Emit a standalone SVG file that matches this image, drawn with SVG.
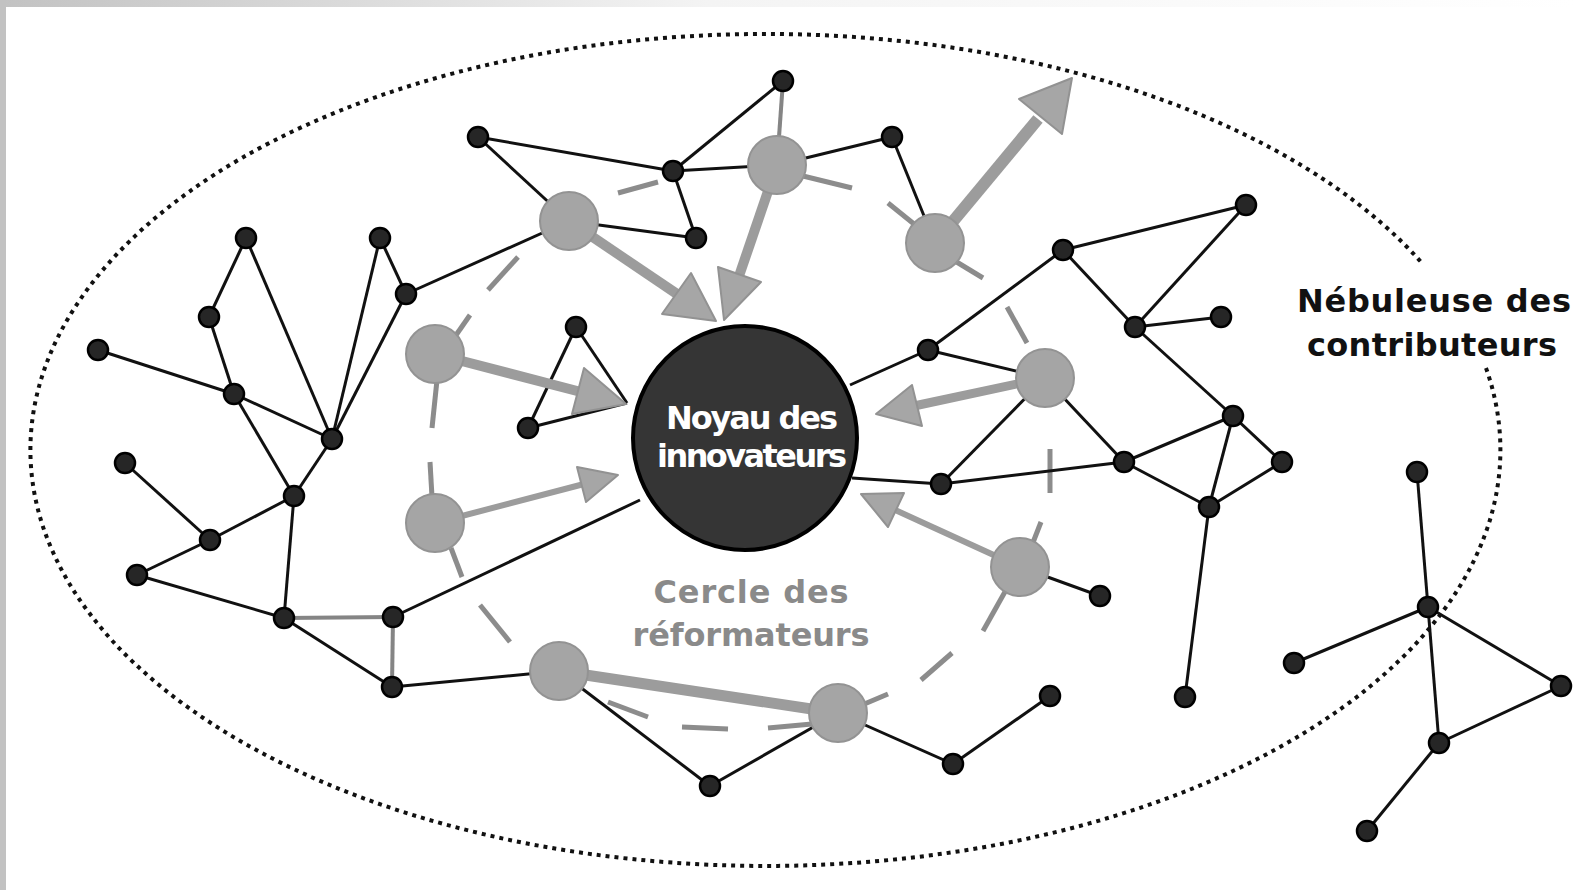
<svg xmlns="http://www.w3.org/2000/svg" width="1576" height="890" viewBox="0 0 1576 890">
<defs>
<linearGradient id="topg" x1="0" y1="0" x2="1" y2="0">
<stop offset="0" stop-color="#c2c2c2"/>
<stop offset="0.45" stop-color="#f4f4f4"/>
<stop offset="1" stop-color="#ffffff"/>
</linearGradient>
</defs>
<style>
.e{stroke:#111;stroke-width:3;fill:none}
.gl{stroke:#858585;stroke-width:4;fill:none}
.d{stroke:#8c8c8c;stroke-width:5;fill:none}
.sh{stroke:#9c9c9c;fill:none}
.ah{fill:#a6a6a6;stroke:#929292;stroke-width:2;stroke-linejoin:round}
.bn{fill:#262626;stroke:#000;stroke-width:2.5}
.gn{fill:#a5a5a5;stroke:#939393;stroke-width:2}
.t{font-family:"DejaVu Sans",sans-serif;font-weight:bold;font-size:32px}
</style>
<rect width="1576" height="890" fill="#fff"/>
<rect x="0" y="0" width="1576" height="7" fill="url(#topg)"/>
<rect x="0" y="0" width="6" height="890" fill="#c2c2c2"/>
<path d="M1486,368 A735,416 0 1 1 1422,263" fill="none" stroke="#111" stroke-width="4" stroke-dasharray="4 5"/>
<g id="connectors">
<g id="dashed-circle">
<line class="d" x1="618" y1="193" x2="658" y2="182"/>
<line class="d" x1="488" y1="290" x2="518" y2="257"/>
<line class="d" x1="454" y1="338" x2="470" y2="315"/>
<line class="d" x1="437" y1="380" x2="432" y2="428"/>
<line class="d" x1="430" y1="462" x2="432" y2="497"/>
<line class="d" x1="451" y1="548" x2="462" y2="577"/>
<line class="d" x1="480" y1="605" x2="510" y2="642"/>
<line class="d" x1="608" y1="702" x2="648" y2="717"/>
<line class="d" x1="682" y1="727" x2="728" y2="729"/>
<line class="d" x1="768" y1="728" x2="812" y2="724"/>
<line class="d" x1="862" y1="705" x2="888" y2="694"/>
<line class="d" x1="921" y1="680" x2="952" y2="653"/>
<line class="d" x1="1006" y1="590" x2="983" y2="631"/>
<line class="d" x1="1032" y1="545" x2="1041" y2="522"/>
<line class="d" x1="1050" y1="449" x2="1050" y2="493"/>
<line class="d" x1="1007" y1="307" x2="1027" y2="343"/>
<line class="d" x1="955" y1="261" x2="983" y2="278"/>
<line class="d" x1="888" y1="203" x2="914" y2="224"/>
<line class="d" x1="803" y1="176" x2="852" y2="188"/>
</g>
<g id="edges">
<line class="e" x1="478" y1="137" x2="673" y2="171"/>
<line class="e" x1="478" y1="137" x2="569" y2="221"/>
<line class="e" x1="673" y1="171" x2="783" y2="81"/>
<line class="e" x1="673" y1="171" x2="696" y2="238"/>
<line class="e" x1="673" y1="171" x2="777" y2="165"/>
<line class="e" x1="569" y1="221" x2="696" y2="238"/>
<line class="e" x1="777" y1="165" x2="892" y2="137"/>
<line class="e" x1="892" y1="137" x2="935" y2="243"/>
<line class="e" x1="569" y1="221" x2="406" y2="294"/>
<line class="e" x1="406" y1="294" x2="380" y2="238"/>
<line class="e" x1="406" y1="294" x2="332" y2="439"/>
<line class="e" x1="380" y1="238" x2="332" y2="439"/>
<line class="e" x1="246" y1="238" x2="209" y2="317"/>
<line class="e" x1="246" y1="238" x2="332" y2="439"/>
<line class="e" x1="209" y1="317" x2="234" y2="394"/>
<line class="e" x1="98" y1="350" x2="234" y2="394"/>
<line class="e" x1="234" y1="394" x2="332" y2="439"/>
<line class="e" x1="234" y1="394" x2="294" y2="496"/>
<line class="e" x1="332" y1="439" x2="294" y2="496"/>
<line class="e" x1="125" y1="463" x2="210" y2="540"/>
<line class="e" x1="210" y1="540" x2="294" y2="496"/>
<line class="e" x1="210" y1="540" x2="137" y2="575"/>
<line class="e" x1="137" y1="575" x2="284" y2="618"/>
<line class="e" x1="294" y1="496" x2="284" y2="618"/>
<line class="e" x1="284" y1="618" x2="392" y2="687"/>
<line class="e" x1="393" y1="617" x2="640" y2="500"/>
<line class="e" x1="392" y1="687" x2="559" y2="671"/>
<line class="e" x1="559" y1="671" x2="710" y2="786"/>
<line class="e" x1="710" y1="786" x2="838" y2="713"/>
<line class="e" x1="838" y1="713" x2="953" y2="764"/>
<line class="e" x1="953" y1="764" x2="1050" y2="696"/>
<line class="e" x1="576" y1="327" x2="528" y2="428"/>
<line class="e" x1="576" y1="327" x2="627" y2="403"/>
<line class="e" x1="528" y1="428" x2="627" y2="403"/>
<line class="e" x1="850" y1="385" x2="928" y2="350"/>
<line class="e" x1="928" y1="350" x2="1063" y2="250"/>
<line class="e" x1="1063" y1="250" x2="1246" y2="205"/>
<line class="e" x1="1246" y1="205" x2="1135" y2="327"/>
<line class="e" x1="1063" y1="250" x2="1135" y2="327"/>
<line class="e" x1="1135" y1="327" x2="1221" y2="317"/>
<line class="e" x1="1135" y1="327" x2="1233" y2="416"/>
<line class="e" x1="928" y1="350" x2="1045" y2="378"/>
<line class="e" x1="1045" y1="378" x2="941" y2="484"/>
<line class="e" x1="1045" y1="378" x2="1124" y2="462"/>
<line class="e" x1="852" y1="478" x2="941" y2="484"/>
<line class="e" x1="941" y1="484" x2="1124" y2="462"/>
<line class="e" x1="1124" y1="462" x2="1233" y2="416"/>
<line class="e" x1="1124" y1="462" x2="1209" y2="507"/>
<line class="e" x1="1233" y1="416" x2="1209" y2="507"/>
<line class="e" x1="1233" y1="416" x2="1282" y2="462"/>
<line class="e" x1="1282" y1="462" x2="1209" y2="507"/>
<line class="e" x1="1209" y1="507" x2="1185" y2="697"/>
<line class="e" x1="1020" y1="567" x2="1100" y2="596"/>
<line class="e" x1="1417" y1="472" x2="1428" y2="607"/>
<line class="e" x1="1428" y1="607" x2="1294" y2="663"/>
<line class="e" x1="1428" y1="607" x2="1561" y2="686"/>
<line class="e" x1="1428" y1="607" x2="1439" y2="743"/>
<line class="e" x1="1439" y1="743" x2="1561" y2="686"/>
<line class="e" x1="1439" y1="743" x2="1367" y2="831"/>
<line class="gl" x1="783" y1="81" x2="777" y2="165"/>
<line class="gl" x1="284" y1="618" x2="393" y2="617" stroke="#7c7c7c" stroke-width="5"/>
<line class="gl" x1="393" y1="617" x2="392" y2="687" stroke="#6e6e6e"/>
</g>
<g id="arrows">
<line class="sh" x1="569" y1="221" x2="680" y2="296" stroke-width="10"/>
<polygon class="ah" points="716,321 662,314 691,273"/>
<line class="sh" x1="777" y1="165" x2="738" y2="279" stroke-width="10"/>
<polygon class="ah" points="724,320 718,267 761,282"/>
<line class="sh" x1="935" y1="243" x2="1038" y2="119" stroke-width="12"/>
<polygon class="ah" points="1072,78 1062,134 1019,99"/>
<line class="sh" x1="435" y1="354" x2="581" y2="392" stroke-width="10"/>
<polygon class="ah" points="626,404 572,414 584,368"/>
<line class="sh" x1="1045" y1="378" x2="914" y2="406" stroke-width="9"/>
<polygon class="ah" points="876,414 912,385 922,426"/>
<line class="sh" x1="435" y1="523" x2="584" y2="484" stroke-width="6"/>
<polygon class="ah" points="618,475 586,502 577,467"/>
<line class="sh" x1="1020" y1="567" x2="893" y2="509" stroke-width="6"/>
<polygon class="ah" points="861,494 904,493 888,527"/>
<line class="sh" x1="559" y1="671" x2="838" y2="713" stroke-width="11"/>
</g>
</g>
<g id="G1"><circle class="gn" cx="569" cy="221" r="29"/></g>
<g id="G2"><circle class="gn" cx="777" cy="165" r="29"/></g>
<g id="G3"><circle class="gn" cx="935" cy="243" r="29"/></g>
<g id="G4"><circle class="gn" cx="435" cy="354" r="29"/></g>
<g id="G5"><circle class="gn" cx="1045" cy="378" r="29"/></g>
<g id="G6"><circle class="gn" cx="435" cy="523" r="29"/></g>
<g id="G7"><circle class="gn" cx="1020" cy="567" r="29"/></g>
<g id="G8"><circle class="gn" cx="559" cy="671" r="29"/></g>
<g id="G9"><circle class="gn" cx="838" cy="713" r="29"/></g>
<g id="n1"><circle class="bn" cx="783" cy="81" r="10"/></g>
<g id="n2"><circle class="bn" cx="478" cy="137" r="10"/></g>
<g id="n3"><circle class="bn" cx="673" cy="171" r="10"/></g>
<g id="n4"><circle class="bn" cx="892" cy="137" r="10"/></g>
<g id="n5"><circle class="bn" cx="696" cy="238" r="10"/></g>
<g id="n6"><circle class="bn" cx="246" cy="238" r="10"/></g>
<g id="n7"><circle class="bn" cx="380" cy="238" r="10"/></g>
<g id="n8"><circle class="bn" cx="406" cy="294" r="10"/></g>
<g id="n9"><circle class="bn" cx="209" cy="317" r="10"/></g>
<g id="n10"><circle class="bn" cx="98" cy="350" r="10"/></g>
<g id="n11"><circle class="bn" cx="234" cy="394" r="10"/></g>
<g id="n12"><circle class="bn" cx="332" cy="439" r="10"/></g>
<g id="n13"><circle class="bn" cx="125" cy="463" r="10"/></g>
<g id="n14"><circle class="bn" cx="294" cy="496" r="10"/></g>
<g id="n15"><circle class="bn" cx="210" cy="540" r="10"/></g>
<g id="n16"><circle class="bn" cx="137" cy="575" r="10"/></g>
<g id="n17"><circle class="bn" cx="284" cy="618" r="10"/></g>
<g id="n18"><circle class="bn" cx="393" cy="617" r="10"/></g>
<g id="n19"><circle class="bn" cx="392" cy="687" r="10"/></g>
<g id="n20"><circle class="bn" cx="576" cy="327" r="10"/></g>
<g id="n21"><circle class="bn" cx="528" cy="428" r="10"/></g>
<g id="n22"><circle class="bn" cx="1246" cy="205" r="10"/></g>
<g id="n23"><circle class="bn" cx="1063" cy="250" r="10"/></g>
<g id="n24"><circle class="bn" cx="1135" cy="327" r="10"/></g>
<g id="n25"><circle class="bn" cx="1221" cy="317" r="10"/></g>
<g id="n26"><circle class="bn" cx="928" cy="350" r="10"/></g>
<g id="n27"><circle class="bn" cx="1233" cy="416" r="10"/></g>
<g id="n28"><circle class="bn" cx="1124" cy="462" r="10"/></g>
<g id="n29"><circle class="bn" cx="1282" cy="462" r="10"/></g>
<g id="n30"><circle class="bn" cx="941" cy="484" r="10"/></g>
<g id="n31"><circle class="bn" cx="1209" cy="507" r="10"/></g>
<g id="n32"><circle class="bn" cx="1100" cy="596" r="10"/></g>
<g id="n33"><circle class="bn" cx="1050" cy="696" r="10"/></g>
<g id="n34"><circle class="bn" cx="953" cy="764" r="10"/></g>
<g id="n35"><circle class="bn" cx="710" cy="786" r="10"/></g>
<g id="n36"><circle class="bn" cx="1185" cy="697" r="10"/></g>
<g id="n37"><circle class="bn" cx="1417" cy="472" r="10"/></g>
<g id="n38"><circle class="bn" cx="1428" cy="607" r="10"/></g>
<g id="n39"><circle class="bn" cx="1294" cy="663" r="10"/></g>
<g id="n40"><circle class="bn" cx="1561" cy="686" r="10"/></g>
<g id="n41"><circle class="bn" cx="1439" cy="743" r="10"/></g>
<g id="n42"><circle class="bn" cx="1367" cy="831" r="10"/></g>
<g id="core">
<circle cx="745" cy="438" r="112" fill="#353535" stroke="#000" stroke-width="4"/>
<text class="t" x="752" y="429" text-anchor="middle" fill="#fff" font-size="29" textLength="172">Noyau des</text>
<text class="t" x="752" y="467" text-anchor="middle" fill="#fff" font-size="28.5" textLength="190">innovateurs</text>
</g>
<g id="label-cercle">
<text class="t" x="751" y="603" text-anchor="middle" fill="#8a8a8a" font-size="32.5" textLength="195">Cercle des</text>
<text class="t" x="751" y="646" text-anchor="middle" fill="#8a8a8a" font-size="32" textLength="237">réformateurs</text>
</g>
<g id="label-nebuleuse">
<text class="t" x="1434" y="312" text-anchor="middle" fill="#111" font-size="33" textLength="274">Nébuleuse des</text>
<text class="t" x="1432" y="356" text-anchor="middle" fill="#111" font-size="32.5" textLength="250">contributeurs</text>
</g>
</svg>
